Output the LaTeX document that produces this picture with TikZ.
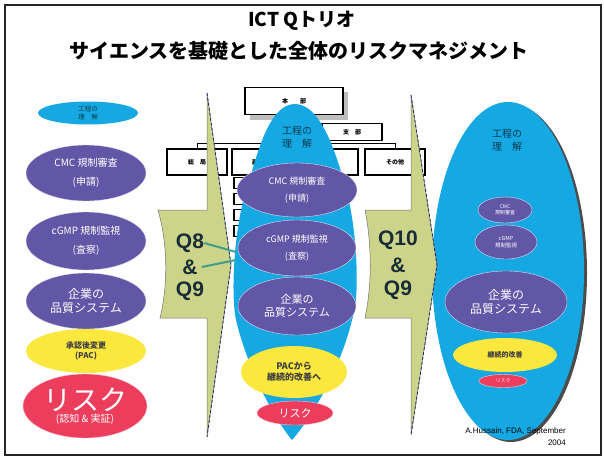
\documentclass[tikz,border=0pt]{standalone}
\usepackage{fontspec}
\setmainfont{Liberation Sans}
\newfontfamily\jp{Noto Sans CJK JP}
\usetikzlibrary{positioning,shapes.geometric}

\definecolor{procblue}{RGB}{22,168,226}
\definecolor{qspurple}{RGB}{98,86,166}
\definecolor{pacyellow}{RGB}{250,232,62}
\definecolor{riskred}{RGB}{236,62,92}
\definecolor{arrowgreen}{RGB}{204,212,138}
\definecolor{qtext}{RGB}{25,45,55}
\definecolor{edgeblue}{RGB}{30,40,110}
\definecolor{linkteal}{RGB}{62,160,140}

\tikzset{
  oval/.style={ellipse, inner sep=0pt, align=center},
  procoval/.style={oval, fill=procblue, text=procblue!35!black},
  qsoval/.style={oval, fill=qspurple, draw=white!80!qspurple, text=white},
  pacoval/.style={oval, fill=pacyellow, text=black!75},
  riskoval/.style={oval, fill=riskred, draw=white!70!riskred, text=white},
  orgbox/.style={draw, line width=1.1pt, fill=white, inner sep=0pt,
    font=\jp\bfseries\fontsize{6}{7}\selectfont},
  qarrow/.style={fill=arrowgreen, draw=black!55, line width=0.5pt},
  qlabel/.style={font=\bfseries\fontsize{21}{22}\selectfont, text=qtext, inner sep=0pt},
}

\begin{document}
\begin{tikzpicture}[x=1pt, y=-1pt]
  \useasboundingbox (0,0) rectangle (604,461);
  \fill[white] (0,0) rectangle (604,461);
  \draw[black!85, line width=2pt] (5,5) rectangle (601,455);

  % Title
  \node[font=\jp\bfseries\fontsize{19}{22}\selectfont] (title) at (302,21) {ICT Qトリオ};
  \node[font=\jp\bfseries\fontsize{20}{22}\selectfont] (subtitle) at (299,51) {サイエンスを基礎とした全体のリスクマネジメント};

  % Left column
  \node[procoval, minimum width=100pt, minimum height=23pt, font=\jp\fontsize{6.5}{7.5}\selectfont] (lproc) at (88,113) {工程の\\理\quad 解};
  \node[qsoval, minimum width=120pt, minimum height=56pt, font=\jp\fontsize{10}{12}\selectfont] (lcmc) at (86,173) {CMC 規制審査\\[7pt](申請)};
  \node[qsoval, minimum width=120pt, minimum height=58pt, font=\jp\fontsize{10}{12}\selectfont] (lgmp) at (86,241) {cGMP 規制監視\\[7pt](査察)};
  \node[qsoval, minimum width=120pt, minimum height=56pt, font=\jp\fontsize{12}{14}\selectfont] (lqs) at (86,301) {企業の\\品質システム};
  \node[pacoval, minimum width=120pt, minimum height=44pt, font=\jp\bfseries\fontsize{8}{10}\selectfont] (lpac) at (86,351) {承認後変更\\(PAC)};
  \node[riskoval, minimum width=124pt, minimum height=64pt] (lrisk) at (85,406)
    {\jp\fontsize{28}{30}\selectfont リスク\\\jp\fontsize{10}{11}\selectfont (認知 \& 実証)};

  % Org chart
  \fill[black!25] (250,92) rectangle (348,120);
  \node[orgbox, minimum width=98pt, minimum height=27pt] (honbu) at (294,101) {本\qquad 部};
  \node[orgbox, minimum width=60pt, minimum height=17pt] (shibu) at (352,132) {支\quad 部};
  \node[orgbox, minimum width=60pt, minimum height=26pt] (sokyoku) at (197,162) {総\quad 局};
  \node[orgbox, minimum width=58pt, minimum height=26pt] (fuku) at (261,162) {副\quad 局};
  \node[orgbox, minimum width=62pt, minimum height=26pt] (kanri) at (327,162) {管\quad 理};
  \node[orgbox, minimum width=60pt, minimum height=26pt] (sonota) at (395,162) {その他};
  \draw[line width=1pt] (sokyoku.north) -- ++(0,-5) -| (sonota.north);
  \draw[line width=1pt] (fuku.north) -- ++(0,-5);
  \draw[line width=1pt] (kanri.north) -- ++(0,-5);
  \draw[line width=1pt] (honbu.south) -- ++(0,26);
  \foreach \y in {183,199,215,231}
    \node[orgbox, minimum width=10pt, minimum height=11pt] (sub\y) at (239,\y) {};

  % Middle process shape
  \fill[procblue] (295,104) .. controls (320,104) and (335,150) .. (345,185)
    .. controls (358,230) and (360,300) .. (352,320)
    .. controls (340,370) and (310,420) .. (292,440)
    .. controls (275,420) and (248,370) .. (236,320)
    .. controls (230,290) and (235,220) .. (248,185)
    .. controls (258,150) and (270,104) .. (295,104) -- cycle;
  \node[text=procblue!35!black, align=center, font=\jp\fontsize{10}{13}\selectfont] (mproc) at (297,137) {工程の\\理\quad 解};

  % Middle column
  \node[qsoval, minimum width=120pt, minimum height=54pt, font=\jp\fontsize{9}{11}\selectfont] (mcmc) at (297,190) {CMC 規制審査\\[6pt](申請)};
  \node[qsoval, minimum width=118pt, minimum height=56pt, font=\jp\fontsize{9}{11}\selectfont] (mgmp) at (297,248) {cGMP 規制監視\\[6pt](査察)};
  \node[qsoval, minimum width=118pt, minimum height=58pt, font=\jp\fontsize{11}{13}\selectfont] (mqs) at (297,306) {企業の\\品質システム};
  \node[pacoval, minimum width=106pt, minimum height=52pt, font=\jp\bfseries\fontsize{9}{11}\selectfont] (mpac) at (294,372) {PACから\\継続的改善へ};
  \node[riskoval, minimum width=76pt, minimum height=24pt, font=\jp\fontsize{11}{12}\selectfont] (mrisk) at (295,413) {リスク};

  % Right column
  \fill[black!70] (511,273) ellipse (76 and 169);
  \node[procoval, minimum width=152pt, minimum height=338pt] (rbig) at (508,271) {};
  \node[text=procblue!35!black, align=center, font=\jp\fontsize{10}{13}\selectfont] (rproc) at (507,140) {工程の\\理\quad 解};
  \node[qsoval, minimum width=54pt, minimum height=26pt, font=\jp\fontsize{5}{6}\selectfont] (rcmc) at (505,210) {CMC\\規制審査};
  \node[qsoval, minimum width=62pt, minimum height=34pt, font=\jp\fontsize{5.5}{7}\selectfont] (rgmp) at (506,242) {cGMP\\規制監視};
  \node[qsoval, minimum width=122pt, minimum height=62pt, font=\jp\fontsize{12}{14}\selectfont] (rqs) at (506,302) {企業の\\品質システム};
  \node[pacoval, minimum width=104pt, minimum height=34pt, font=\jp\bfseries\fontsize{7}{8}\selectfont] (rpac) at (505,355) {継続的改善};
  \node[riskoval, minimum width=48pt, minimum height=13pt, font=\jp\fontsize{5}{6}\selectfont] (rrisk) at (503,381) {リスク};

  % Q arrows
  \draw[qarrow] (207,93) -- (231,265) -- (207,437) -- (207,318) -- (160,318)
    .. controls (168,285) and (168,245) .. (158,210) -- (207,210) -- cycle;
  \draw[edgeblue, densely dashed, line width=0.8pt] (207,93) -- (231,265) -- (207,437);
  \draw[qarrow] (411,95) -- (437,265) -- (411,435) -- (411,318) -- (365,318)
    .. controls (372,285) and (372,245) .. (365,210) -- (411,210) -- cycle;
  \draw[edgeblue, densely dashed, line width=0.8pt] (411,95) -- (437,265) -- (411,435);

  % Labels
  \node[qlabel] (q8) at (190,243) {Q8};
  \node[qlabel] (ampa) at (190,267) {\&};
  \node[qlabel] (q9a) at (190,291) {Q9};
  \node[qlabel] (q10) at (398,240) {Q10};
  \node[qlabel] (ampb) at (398,265) {\&};
  \node[qlabel] (q9b) at (398,290) {Q9};
  \coordinate (linkA) at (236,252);
  \coordinate (linkB) at (236,260);
  \draw[linkteal, line width=2pt] (q8.east) -- (linkA);
  \draw[linkteal, line width=2pt] (ampa.east) ++(4,0) -- (linkB);

  \node[anchor=east, align=right, inner sep=0pt, font=\fontsize{8}{12}\selectfont] (credit) at (566,437) {A.Hussain, FDA, September\\2004};
\end{tikzpicture}
\end{document}
